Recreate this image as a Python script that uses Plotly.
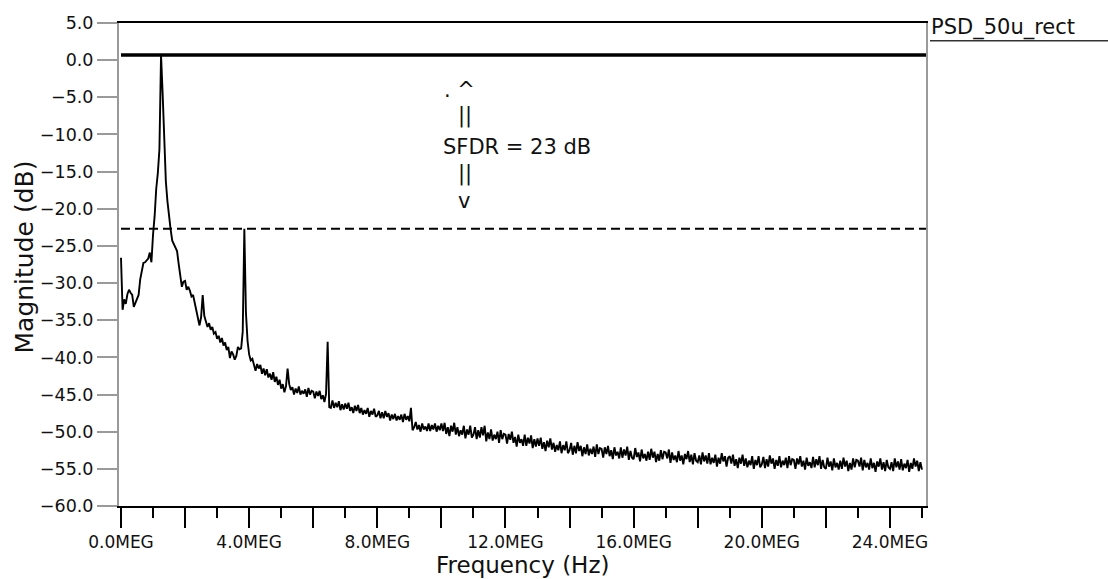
import numpy as np
import plotly.graph_objects as go

# ---------------- data ----------------
TRACE_NAME = "PSD_50u_rect"
FREQ_STEP_MEG = 0.05
freq_meg = np.round(np.arange(0, 25.0 + 1e-9, FREQ_STEP_MEG), 2)   # 0 .. 25 MEG

mag_db = [
    # 0.00 - 0.95 MEG
    -26.6, -33.6, -32.2, -32.8, -31.5, -30.9, -31.3, -31.6, -33.2, -32.6,
    -32.0, -31.6, -29.5, -28.4, -27.3, -27.2, -27.0, -26.7, -25.9, -27.2,
    # 1.00 - 1.95
    -23.5, -21.0, -17.3, -15.2, -12.0, 0.7, -4.5, -11.0, -16.3, -19.0,
    -21.3, -22.8, -24.3, -24.8, -25.3, -25.7, -27.4, -29.0, -30.5, -29.8,
    # 2.00 - 2.95
    -29.7, -30.9, -30.5, -31.0, -31.8, -31.6, -32.6, -33.3, -34.3, -35.7,
    -34.6, -31.6, -34.4, -35.3, -35.9, -35.4, -36.3, -35.9, -36.8, -36.6,
    # 3.00 - 3.95
    -37.5, -37.1, -38.0, -37.4, -38.4, -38.0, -39.0, -38.6, -40.1, -39.2,
    -39.6, -40.3, -39.8, -38.6, -38.9, -38.8, -36.5, -22.7, -34.0, -37.8,
    # 4.00 - 4.95
    -39.6, -40.4, -40.2, -41.0, -41.8, -40.9, -41.5, -41.0, -42.2, -41.5,
    -42.4, -41.6, -42.7, -42.2, -43.0, -42.0, -43.3, -42.6, -43.7, -43.0,
    # 5.00 - 5.95
    -44.2, -43.6, -44.7, -43.9, -41.5, -43.6, -44.4, -44.0, -45.0, -44.2,
    -44.8, -43.9, -45.0, -44.5, -44.9, -44.3, -45.3, -44.1, -45.0, -44.5,
    # 6.00 - 6.95
    -44.6, -45.5, -44.6, -45.2, -44.5, -45.6, -45.1, -46.0, -44.9, -37.9,
    -46.7, -46.8, -45.8, -46.8, -46.1, -46.7, -45.9, -47.1, -46.3, -47.0,
    # 7.00 - 7.95
    -46.2, -46.9, -46.1, -47.2, -46.7, -47.5, -46.5, -47.2, -46.4, -47.5,
    -46.8, -47.7, -47.1, -47.6, -46.8, -48.0, -47.2, -47.7, -46.9, -48.0,
    # 8.00 - 8.95
    -47.8, -47.2, -48.2, -47.4, -48.2, -47.2, -48.0, -47.5, -48.5, -47.7,
    -48.3, -47.6, -48.5, -47.9, -48.4, -47.7, -48.7, -47.6, -48.4, -47.9,
    # 9.00 - 9.95
    -48.6, -46.8, -49.8, -49.4, -48.7, -49.7, -49.1, -50.0, -48.9, -49.7,
    -49.3, -49.9, -48.9, -49.9, -49.1, -49.7, -48.9, -50.0, -49.2, -49.8,
    # 10.00 - 10.95
    -48.9, -49.9, -48.8, -50.3, -49.4, -50.6, -49.2, -50.0, -48.8, -50.4,
    -49.4, -50.6, -49.8, -50.4, -49.2, -50.9, -49.7, -50.4, -49.2, -50.8,
    # 11.00 - 11.95
    -50.4, -49.4, -51.0, -49.8, -50.8, -49.4, -50.5, -49.2, -51.3, -50.1,
    -51.0, -49.7, -51.2, -50.4, -51.0, -50.0, -51.5, -49.8, -51.0, -50.3,
    # 12.00 - 12.95
    -50.4, -51.6, -50.3, -51.1, -50.0, -51.5, -50.7, -52.0, -50.4, -51.5,
    -51.0, -51.9, -50.4, -51.9, -50.8, -51.6, -50.5, -52.2, -51.0, -52.0,
    # 13.00 - 13.95
    -50.9, -51.9, -50.8, -52.3, -51.4, -52.6, -51.2, -52.1, -50.9, -52.4,
    -51.5, -52.7, -51.8, -52.5, -51.3, -52.9, -51.8, -52.5, -51.3, -52.9,
    # 14.00 - 14.95
    -52.5, -51.5, -53.1, -51.9, -52.9, -51.4, -52.6, -51.9, -53.3, -52.1,
    -53.0, -51.7, -53.2, -52.3, -53.0, -52.0, -53.4, -51.7, -53.0, -52.2,
    # 15.00 - 15.95
    -52.3, -53.5, -52.1, -53.0, -51.9, -53.3, -52.5, -53.7, -52.1, -53.2,
    -52.7, -53.6, -52.1, -53.5, -52.4, -53.2, -52.0, -53.8, -52.6, -53.5,
    # 16.00 - 16.95
    -53.7, -52.2, -53.4, -52.8, -54.0, -52.4, -53.6, -53.0, -53.9, -52.7,
    -53.8, -52.3, -53.5, -52.7, -54.1, -53.0, -53.9, -52.5, -53.7, -52.7,
    # 17.00 - 17.95
    -52.8, -53.6, -52.4, -54.2, -52.8, -53.8, -53.2, -54.1, -52.6, -53.9,
    -53.2, -54.4, -53.0, -53.7, -52.6, -54.1, -53.1, -54.4, -52.9, -53.9,
    # 18.00 - 18.95
    -54.1, -53.2, -54.4, -52.8, -54.0, -53.2, -54.3, -52.9, -54.4, -53.5,
    -54.2, -53.1, -54.7, -53.5, -54.3, -52.9, -54.0, -53.3, -54.7, -53.5,
    # 19.00 - 19.95
    -53.3, -54.3, -53.1, -54.6, -53.7, -54.9, -53.5, -54.3, -53.1, -54.6,
    -53.6, -54.8, -53.9, -54.5, -53.3, -55.0, -53.8, -54.5, -53.3, -54.8,
    # 20.00 - 20.95
    -54.4, -53.4, -54.9, -53.7, -54.7, -53.2, -54.3, -53.6, -55.0, -53.8,
    -54.6, -53.3, -54.8, -53.9, -54.5, -53.5, -54.9, -53.3, -54.5, -53.7,
    # 21.00 - 21.95
    -53.8, -55.0, -53.6, -54.4, -53.3, -54.7, -53.9, -55.1, -53.5, -54.6,
    -54.1, -54.9, -53.4, -54.8, -53.7, -54.5, -53.3, -55.0, -53.8, -54.8,
    # 22.00 - 22.95
    -55.0, -53.5, -54.7, -54.0, -55.2, -53.6, -54.8, -54.2, -55.1, -53.9,
    -55.0, -53.5, -54.7, -53.9, -55.3, -54.2, -55.1, -53.6, -54.8, -53.8,
    # 23.00 - 23.95
    -53.9, -54.7, -53.5, -55.2, -53.8, -54.8, -54.2, -55.1, -53.6, -54.9,
    -54.2, -55.4, -54.0, -54.7, -53.6, -55.1, -54.1, -55.3, -53.8, -54.8,
    # 24.00 - 24.95
    -55.0, -54.1, -55.3, -53.6, -54.8, -54.0, -55.1, -53.7, -55.2, -54.3,
    -54.9, -53.8, -55.4, -54.2, -55.0, -53.6, -54.7, -53.9, -55.3, -54.1,
    # 25.00
    -55.1,
]

x_tick_vals = [0, 2, 4, 6, 8, 10, 12, 14, 16, 18, 20, 22, 24]
x_tick_text = ["0.0MEG", "", "4.0MEG", "", "8.0MEG", "", "12.0MEG", "",
               "16.0MEG", "", "20.0MEG", "", "24.0MEG"]
x_minor_vals = [1, 3, 5, 7, 9, 11, 13, 15, 17, 19, 21, 23, 25]
y_tick_vals = [5, 0, -5, -10, -15, -20, -25, -30, -35, -40, -45, -50, -55, -60]

# ---------------- derived levels ----------------
mag = np.array(mag_db)
assert len(mag) == len(freq_meg)
peak_idx = int(np.argmax(mag))
peak_db = float(mag[peak_idx])
spur_mask = np.abs(freq_meg - freq_meg[peak_idx]) > 0.5
spur_db = float(mag[spur_mask].max())
sfdr_db = peak_db - spur_db

y_tick_text = [("\u2212" if v < 0 else "") + f"{abs(v):.1f}" for v in y_tick_vals]

# ---------------- style ----------------
FONT = "DejaVu Sans"
W, H = 1108, 579
ML, MR, MT, MB = 119, 182, 23, 73
X_MIN, X_MAX = -0.062, 25.125
AX_GRAY = "#9a9a9a"
TXT = "#111111"

fig = go.Figure()
fig.add_trace(go.Scatter(
    x=freq_meg, y=mag, mode="lines", name=TRACE_NAME,
    line=dict(color="black", width=1.9), showlegend=False, hoverinfo="skip"))

PW, PH = W - ML - MR, H - MT - MB
shapes = [
    dict(type="line", xref="x", yref="y", x0=0, x1=X_MAX, y0=peak_db, y1=peak_db,
         line=dict(color="black", width=3.5)),
    dict(type="line", xref="x", yref="y", x0=0, x1=X_MAX, y0=spur_db, y1=spur_db,
         line=dict(color="black", width=2, dash="9px,5px")),
    # legend underline
    dict(type="line", xref="paper", yref="paper",
         x0=(930 - ML) / PW, x1=(W - ML) / PW,
         y0=(H - MB - 40.7) / PH, y1=(H - MB - 40.7) / PH,
         line=dict(color="#333333", width=1.5)),
]

def ann(text, x, y, size, xanchor="left", **kw):
    d = dict(text=text, x=x, y=y, xanchor=xanchor, yanchor="middle", showarrow=False,
             font=dict(family=FONT, size=size, color=TXT))
    d.update(kw)
    return d

annotations = [
    ann(". ^", 10.02, -3.95, 21, xref="x", yref="y"),
    ann("||", 10.47, -7.45, 21, xref="x", yref="y"),
    ann(f"SFDR = {sfdr_db:.0f} dB", 9.99, -11.75, 21, xref="x", yref="y"),
    ann("||", 10.47, -15.25, 21, xref="x", yref="y"),
    ann("v", 10.46, -19.02, 21, xref="x", yref="y"),
    ann(TRACE_NAME, (929 - ML) / PW, (H - MB - 27.5) / PH, 21, xref="paper", yref="paper"),
    ann("Magnitude (dB)", (24 - ML) / PW, (H - MB - 257.5) / PH, 25, xanchor="center",
        xref="paper", yref="paper", textangle=-90),
    ann("Frequency (Hz)", (522 - ML) / PW, (H - MB - 565) / PH, 23, xanchor="center",
        xref="paper", yref="paper"),
]

fig.update_layout(
    width=W, height=H, autosize=False,
    margin=dict(l=ML, r=MR, t=MT, b=MB, pad=0),
    paper_bgcolor="white", plot_bgcolor="white",
    font=dict(family=FONT, color=TXT),
    shapes=shapes, annotations=annotations,
    xaxis=dict(
        range=[X_MIN, X_MAX], showgrid=False, zeroline=False,
        showline=True, linecolor="black", linewidth=2, mirror=True,
        ticks="outside", ticklen=20, tickwidth=1.5, tickcolor="black",
        tickmode="array", tickvals=x_tick_vals, ticktext=x_tick_text,
        tickfont=dict(family=FONT, size=17, color=TXT),
        minor=dict(tickmode="array", tickvals=x_minor_vals, ticks="outside",
                   ticklen=10, tickwidth=1.5, tickcolor="black", showgrid=False),
    ),
    yaxis=dict(
        range=[-60, 5], showgrid=False, zeroline=False,
        showline=True, linecolor=AX_GRAY, linewidth=2, mirror=True,
        ticks="outside", ticklen=20, tickwidth=1.5, tickcolor=AX_GRAY,
        tickmode="array", tickvals=y_tick_vals, ticktext=y_tick_text,
        tickfont=dict(family=FONT, size=17.5, color=TXT),
    ),
)

fig.write_html("out.html", config={"displayModeBar": False})
